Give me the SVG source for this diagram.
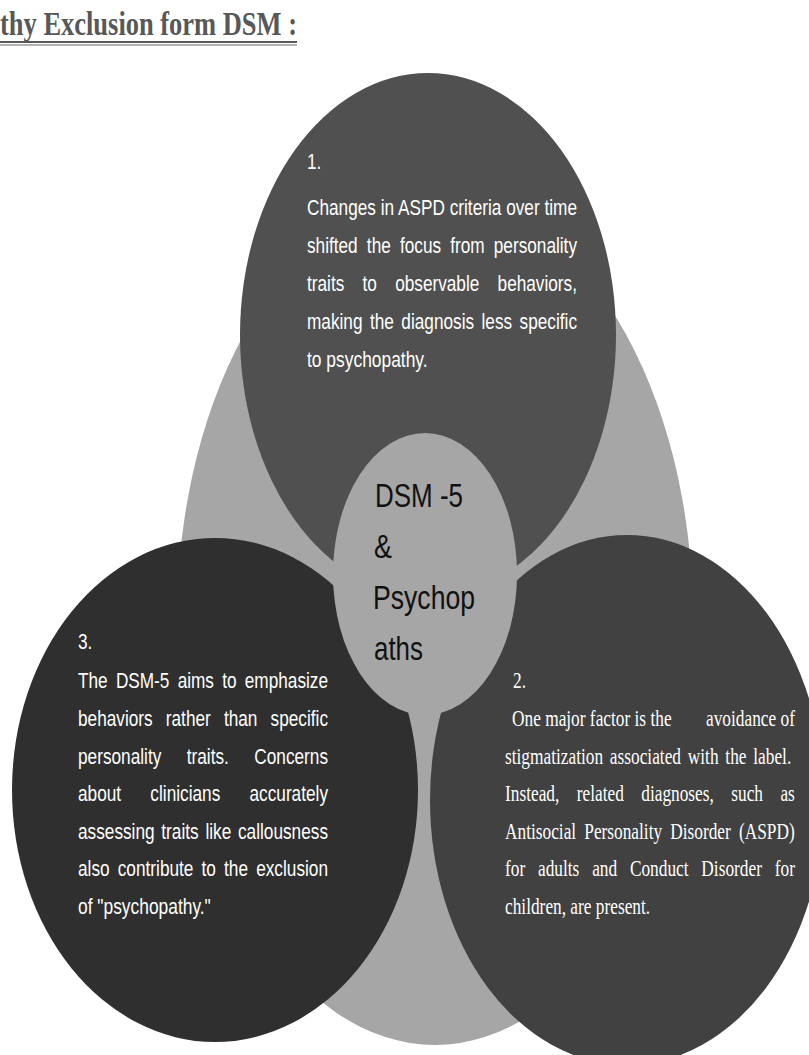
<svg xmlns="http://www.w3.org/2000/svg" width="809" height="1055" viewBox="0 0 809 1055">
<style>
.bg{fill:#a6a6a6}
.c1{fill:#505050}
.c2{fill:#414141}
.c3{fill:#2f2f2f}
.ctr{fill:#a6a6a6}
.sans{font-family:"Liberation Sans",Arial,sans-serif;font-size:22px;fill:#ffffff}
.serif{font-family:"Liberation Serif","Times New Roman",serif;font-size:22.5px;fill:#ffffff}
.mid{font-family:"Liberation Sans",Arial,sans-serif;font-size:34px;fill:#111111}
.title{font-family:"Liberation Serif","Times New Roman",serif;font-size:34px;font-weight:bold;fill:#585858}
</style>
<rect width="809" height="1055" fill="#ffffff"/>
<g id="title">
<text class="title" x="0" y="35" textLength="297" lengthAdjust="spacingAndGlyphs">thy Exclusion form DSM :</text>
<line x1="0" y1="42" x2="297" y2="42" stroke="#585858" stroke-width="2"/>
<line x1="0" y1="45" x2="297" y2="45" stroke="#9a9a9a" stroke-width="1.5"/>
</g>
<g id="background">
<ellipse class="bg" cx="435" cy="620" rx="258" ry="425"/>
</g>
<g id="connectors"></g>
<g id="node1">
<ellipse class="c1" cx="428" cy="335" rx="188" ry="262"/>
<text class="sans" x="307" y="169" textLength="14.4" lengthAdjust="spacingAndGlyphs">1.</text>
<text class="sans" x="307" y="215" textLength="270" lengthAdjust="spacingAndGlyphs">Changes in ASPD criteria over time</text>
<text class="sans" x="307" y="253" textLength="270" lengthAdjust="spacingAndGlyphs" style="word-spacing:5.6px">shifted the focus from personality</text>
<text class="sans" x="307" y="291" textLength="270" lengthAdjust="spacingAndGlyphs" style="word-spacing:17.2px">traits to observable behaviors,</text>
<text class="sans" x="307" y="329" textLength="270" lengthAdjust="spacingAndGlyphs" style="word-spacing:3.4px">making the diagnosis less specific</text>
<text class="sans" x="307" y="367" textLength="120.6" lengthAdjust="spacingAndGlyphs">to psychopathy.</text>
</g>
<g id="node3">
<ellipse class="c3" cx="215" cy="790" rx="203" ry="252"/>
<text class="sans" x="78" y="649" textLength="14.4" lengthAdjust="spacingAndGlyphs">3.</text>
<text class="sans" x="78" y="688" textLength="250" lengthAdjust="spacingAndGlyphs" style="word-spacing:4.4px">The DSM-5 aims to emphasize</text>
<text class="sans" x="78" y="726" textLength="250" lengthAdjust="spacingAndGlyphs" style="word-spacing:10.7px">behaviors rather than specific</text>
<text class="sans" x="78" y="764" textLength="250" lengthAdjust="spacingAndGlyphs" style="word-spacing:26.4px">personality traits. Concerns</text>
<text class="sans" x="78" y="801" textLength="250" lengthAdjust="spacingAndGlyphs" style="word-spacing:31.3px">about clinicians accurately</text>
<text class="sans" x="78" y="839" textLength="250" lengthAdjust="spacingAndGlyphs" style="word-spacing:2.5px">assessing traits like callousness</text>
<text class="sans" x="78" y="876" textLength="250" lengthAdjust="spacingAndGlyphs" style="word-spacing:4.3px">also contribute to the exclusion</text>
<text class="sans" x="78" y="914" textLength="132.8" lengthAdjust="spacingAndGlyphs">of "psychopathy."</text>
</g>
<g id="node2">
<ellipse class="c2" cx="627" cy="800" rx="197" ry="265"/>
<text class="serif" transform="translate(513 688) scale(0.77 1)" x="0" y="0">2.</text>
<text class="serif" transform="translate(512 726) scale(0.77 1)" x="0" y="0">One major factor is the<tspan x="252">avoidance of</tspan></text>
<text class="serif" transform="translate(505 763.5) scale(0.77 1)" x="0" y="0" style="word-spacing:3.2px">stigmatization associated with the label.</text>
<text class="serif" transform="translate(505 801) scale(0.77 1)" x="0" y="0" style="word-spacing:17px">Instead, related diagnoses, such as</text>
<text class="serif" transform="translate(505 838.5) scale(0.77 1)" x="0" y="0" style="word-spacing:4.9px">Antisocial Personality Disorder (ASPD)</text>
<text class="serif" transform="translate(505 876) scale(0.77 1)" x="0" y="0" style="word-spacing:11px">for adults and Conduct Disorder for</text>
<text class="serif" transform="translate(505 913.5) scale(0.77 1)" x="0" y="0">children, are present.</text>
</g>
<g id="center">
<ellipse class="ctr" cx="425" cy="574" rx="92" ry="141"/>
<text class="mid" x="375" y="507" textLength="88" lengthAdjust="spacingAndGlyphs">DSM -5</text>
<text class="mid" x="374" y="558" textLength="18" lengthAdjust="spacingAndGlyphs">&amp;</text>
<text class="mid" x="373" y="609" textLength="102" lengthAdjust="spacingAndGlyphs">Psychop</text>
<text class="mid" x="374" y="660" textLength="49" lengthAdjust="spacingAndGlyphs">aths</text>
</g>
</svg>
